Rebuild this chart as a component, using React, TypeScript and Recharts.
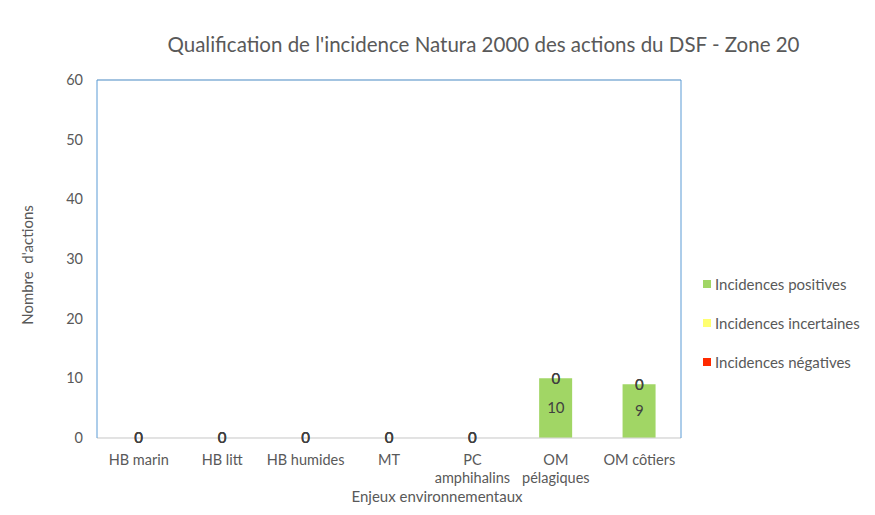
import React from "react";
import {
  ComposedChart,
  Bar,
  Line,
  XAxis,
  YAxis,
  CartesianGrid,
  Legend,
  LabelList,
  Label,
  ReferenceLine,
} from "recharts";

const CATEGORIES = [
  "HB marin",
  "HB litt",
  "HB humides",
  "MT",
  "PC\namphihalins",
  "OM\npélagiques",
  "OM côtiers",
];
const POSITIVES = [0, 0, 0, 0, 0, 10, 9];
const INCERTAINES = [0, 0, 0, 0, 0, 0, 0];
const NEGATIVES = [0, 0, 0, 0, 0, 0, 0];
const Y_TICKS = [0, 10, 20, 30, 40, 50, 60];

const SERIES = [
  { key: "positives", name: "Incidences positives", color: "#A1D665" },
  { key: "incertaines", name: "Incidences incertaines", color: "#FFFF70" },
  { key: "negatives", name: "Incidences négatives", color: "#FF2A00" },
];

const FONT = "Lato, 'Open Sans', sans-serif";
const BLUE = "#5B9BD5";
const GRID = "#D9D9D9";

const data = CATEGORIES.map((name, i) => ({
  name,
  positives: POSITIVES[i],
  incertaines: INCERTAINES[i],
  negatives: NEGATIVES[i],
}));

// middle of a stacked segment, so zero values still get a label (like Excel)
const segmentMiddle = (idx: number) => (d: any) => {
  let base = 0;
  for (let j = 0; j < idx; j++) base += d[SERIES[j].key];
  return base + d[SERIES[idx].key] / 2;
};

function CategoryTick(props: any) {
  const { x, y, payload } = props;
  const lines = String(payload.value).split("\n");
  return (
    <text
      x={x}
      y={y}
      textAnchor="middle"
      fill="#595959"
      fontSize={14.5}
      fontFamily={FONT}
    >
      {lines.map((line, i) => (
        <tspan key={i} x={x} dy={i === 0 ? 25 : 18}>
          {line}
        </tspan>
      ))}
    </text>
  );
}

function ValueLabel(props: any) {
  const { x, y, value } = props;
  if (value === undefined || value === null) return null;
  return (
    <text
      x={x}
      y={y}
      dy="0.355em"
      textAnchor="middle"
      fill="#404040"
      fontSize={15}
      fontFamily={FONT}
    >
      {value}
    </text>
  );
}

function renderLegend() {
  return (
    <div style={{ fontFamily: FONT, fontSize: 15, color: "#595959" }}>
      {SERIES.map((s) => (
        <div
          key={s.key}
          style={{ display: "flex", alignItems: "center", height: 39 }}
        >
          <span
            style={{
              display: "inline-block",
              width: 8,
              height: 8,
              background: s.color,
              marginRight: 4,
            }}
          />
          <span>{s.name}</span>
        </div>
      ))}
    </div>
  );
}

export default function App() {
  return (
    <div
      style={{
        position: "relative",
        width: 875,
        height: 515,
        margin: -8,
        overflow: "hidden",
        background: "#fff",
      }}
    >
      <div
        style={{
          position: "absolute",
          left: 6,
          top: 4,
          width: 900,
          height: 600,
          border: "1px solid #D9D9D9",
        }}
      />
      <div
        style={{
          position: "absolute",
          left: 0,
          width: 967,
          top: 32,
          textAlign: "center",
          fontFamily: FONT,
          fontSize: 20.5,
          color: "#595959",
          whiteSpace: "nowrap",
        }}
      >
        Qualification de l'incidence Natura 2000 des actions du DSF - Zone 20
      </div>
      <ComposedChart
        width={875}
        height={515}
        data={data}
        margin={{ top: 80, right: 193, bottom: 0, left: 0 }}
        style={{ position: "absolute", left: 0, top: 0 }}
      >
        <CartesianGrid horizontal vertical={false} stroke={GRID} />
        <XAxis
          dataKey="name"
          height={77}
          interval={0}
          tickLine={false}
          tickSize={0}
          axisLine={{ stroke: GRID }}
          tick={<CategoryTick />}
        >
          <Label
            content={() => (
              <text
                x={437}
                y={502}
                textAnchor="middle"
                fill="#595959"
                fontSize={15}
                fontFamily={FONT}
              >
                Enjeux environnementaux
              </text>
            )}
          />
        </XAxis>
        <YAxis
          yAxisId="left"
          width={97}
          domain={[0, 60]}
          ticks={Y_TICKS}
          tickLine={false}
          tickSize={0}
          tickMargin={14}
          axisLine={{ stroke: BLUE }}
          tick={{ fill: "#595959", fontSize: 14.5, fontFamily: FONT }}
        >
          <Label
            content={() => (
              <text
                x={33}
                y={265}
                textAnchor="middle"
                fill="#595959"
                fontSize={15}
                fontFamily={FONT}
                transform="rotate(-90 33 265)"
              >
                {"Nombre\u00a0 d'actions"}
              </text>
            )}
          />
        </YAxis>
        <YAxis
          yAxisId="right"
          orientation="right"
          width={1}
          domain={[0, 60]}
          tick={false}
          tickLine={false}
          axisLine={{ stroke: BLUE }}
        />
        <ReferenceLine yAxisId="left" y={60} stroke={BLUE} />
        {SERIES.map((s) => (
          <Bar
            key={s.key}
            yAxisId="left"
            dataKey={s.key}
            name={s.name}
            stackId="a"
            fill={s.color}
            barSize={33}
            isAnimationActive={false}
          />
        ))}
        {SERIES.map((s, i) => (
          <Line
            key={`lbl-${s.key}`}
            yAxisId="left"
            dataKey={segmentMiddle(i)}
            stroke="none"
            dot={false}
            activeDot={false}
            legendType="none"
            isAnimationActive={false}
          >
            <LabelList dataKey={s.key} content={<ValueLabel />} />
          </Line>
        ))}
        <Legend
          layout="horizontal"
          align="center"
          verticalAlign="middle"
          content={renderLegend}
          wrapperStyle={{ left: 703, top: 264, width: 170 }}
        />
      </ComposedChart>
    </div>
  );
}
